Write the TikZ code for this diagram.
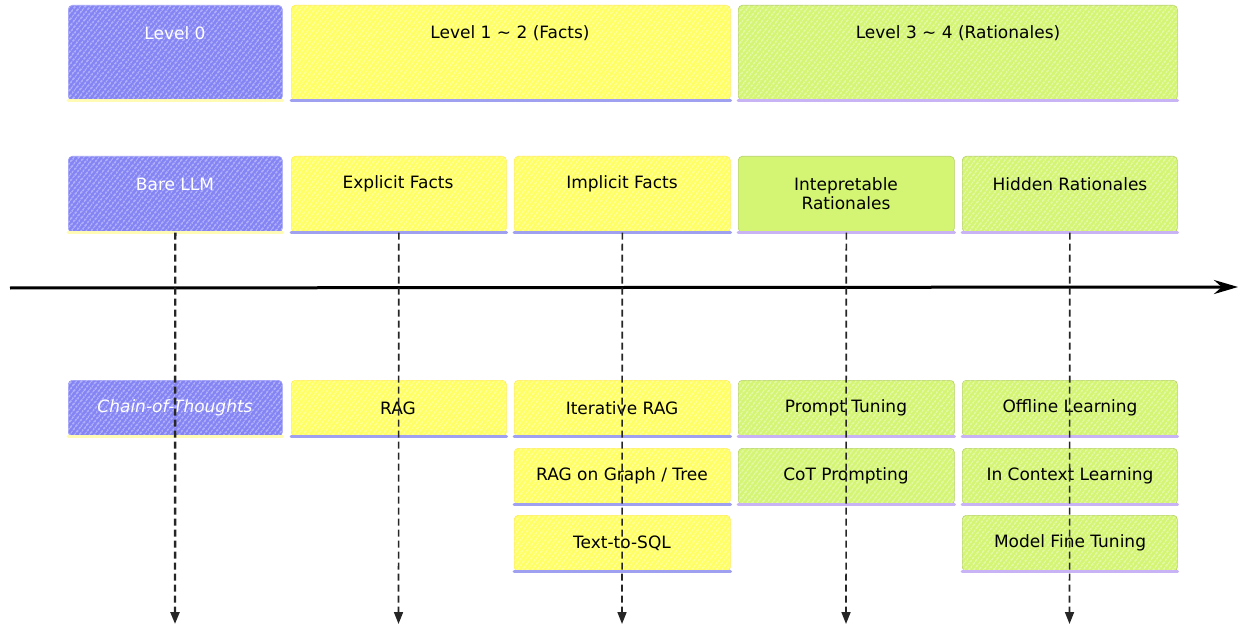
\documentclass[tikz,border=0pt]{standalone}
\usepackage{fontspec}
\setmainfont{DejaVu Sans}
\usetikzlibrary{patterns.meta,arrows.meta}
\definecolor{cBlue}{RGB}{132,132,245}
\definecolor{cYel}{RGB}{255,255,100}
\definecolor{cGrn}{RGB}{212,245,115}
\definecolor{sBlue}{RGB}{160,160,240}
\definecolor{sYel}{RGB}{255,250,180}
\definecolor{sGrn}{RGB}{200,180,245}
\begin{document}
\begin{tikzpicture}[x=1pt,y=-1pt,
  hatch/.style={postaction={pattern={Lines[angle=52,distance=4pt,line width=0.7pt]}, pattern color=white}},
  base/.style={line width=0.6pt, rounded corners=4pt, anchor=north west, inner sep=0pt},
  tb/.style={base, draw=cBlue!80!white, fill=cBlue, hatch},
  ty/.style={base, draw=cYel!85!orange, fill=cYel, hatch},
  tg/.style={base, draw=cGrn!85!black, fill=cGrn, hatch},
  tgs/.style={base, draw=cGrn!85!black, fill=cGrn},
  txt/.style={font=\fontsize{17}{19.5}\selectfont, align=center, inner sep=0pt},
  wtxt/.style={txt, text=white},
  strip/.style={line width=3pt, line cap=round},
  darr/.style={line width=1.6pt, dash pattern=on 7pt off 4pt, -{Triangle[length=12pt,width=9pt]}, black!85},
]
\useasboundingbox (0,0) rectangle (1244,628);

% top row
\node[tb, minimum width=214, minimum height=95] (lv0) at (68,5) {};
\node[ty, minimum width=439, minimum height=95] (lv12) at (291,5) {};
\node[tg, minimum width=439, minimum height=95] (lv34) at (738,5) {};
\node[wtxt] (lv0t) at (175,33) {Level 0};
\node[txt] (lv12t) at (510,33) {Level 1 \textasciitilde{} 2 (Facts)};
\node[txt] (lv34t) at (958,33) {Level 3 \textasciitilde{} 4 (Rationales)};

% second row
\node[tb, minimum width=214, minimum height=76] (bare) at (68,156) {};
\node[ty, minimum width=215, minimum height=76] (expl) at (291,156) {};
\node[ty, minimum width=216, minimum height=76] (impl) at (514,156) {};
\node[tgs, minimum width=216, minimum height=76] (intp) at (738,156) {};
\node[tg, minimum width=215, minimum height=76] (hidd) at (962,156) {};
\node[wtxt] (baret) at (175,184) {Bare LLM};
\node[txt] (explt) at (398,184) {Explicit Facts};
\node[txt] (implt) at (622,184) {Implicit Facts};
\node[txt] (intpt) at (846,193.5) {Intepretable\\Rationales};
\node[txt] (hiddt) at (1070,184) {Hidden Rationales};

% rows 3-5
\node[tb, minimum width=214, minimum height=56] (cot) at (68,380) {};
\node[ty, minimum width=215, minimum height=56] (rag) at (291,380) {};
\node[ty, minimum width=216, minimum height=56] (irag) at (514,380) {};
\node[tg, minimum width=216, minimum height=56] (ptun) at (738,380) {};
\node[tg, minimum width=215, minimum height=56] (offl) at (962,380) {};
\node[ty, minimum width=216, minimum height=56] (grag) at (514,448) {};
\node[tg, minimum width=216, minimum height=56] (cotp) at (738,448) {};
\node[tg, minimum width=215, minimum height=56] (icl) at (962,448) {};
\node[ty, minimum width=216, minimum height=56] (tsql) at (514,515) {};
\node[tg, minimum width=215, minimum height=56] (mft) at (962,515) {};

\node[wtxt, font=\fontsize{17}{19.5}\selectfont\itshape] (cott) at (175,408) {Chain-of-Thoughts};
\node[txt] (ragt) at (398,408) {RAG};
\node[txt] (iragt) at (622,408) {Iterative RAG};
\node[txt] (ptunt) at (846,408) {Prompt Tuning};
\node[txt] (offlt) at (1070,408) {Offline Learning};
\node[txt] (gragt) at (622,476) {RAG on Graph / Tree};
\node[txt] (cotpt) at (846,476) {CoT Prompting};
\node[txt] (iclt) at (1070,476) {In Context Learning};
\node[txt] (tsqlt) at (622,543) {Text-to-SQL};
\node[txt] (mftt) at (1070,543) {Model Fine Tuning};

% bottom strips
\foreach \n/\c in {lv0/sYel,bare/sYel,cot/sYel,
  lv12/sBlue,expl/sBlue,impl/sBlue,rag/sBlue,irag/sBlue,grag/sBlue,tsql/sBlue,
  lv34/sGrn,intp/sGrn,hidd/sGrn,ptun/sGrn,offl/sGrn,cotp/sGrn,icl/sGrn,mft/sGrn}
  \draw[strip, \c] (\n.south west) -- (\n.south east);

% timeline
\coordinate (tl0) at (10,288);
\coordinate (tl1) at (1238,287);
\draw[line width=3pt, -{Stealth[length=24pt,width=14pt]}] (tl0) -- (tl1);

% dashed arrows
\coordinate (e1) at (175,624);
\coordinate (e2) at (398.5,624);
\coordinate (e3) at (622,624);
\coordinate (e4) at (846,624);
\coordinate (e5) at (1069.5,624);
\draw[darr, line width=2.4pt] (bare.south) -- (e1);
\draw[darr] (expl.south) -- (e2);
\draw[darr] (impl.south) -- (e3);
\draw[darr] (intp.south) -- (e4);
\draw[darr] (hidd.south) -- (e5);
\end{tikzpicture}
\end{document}
